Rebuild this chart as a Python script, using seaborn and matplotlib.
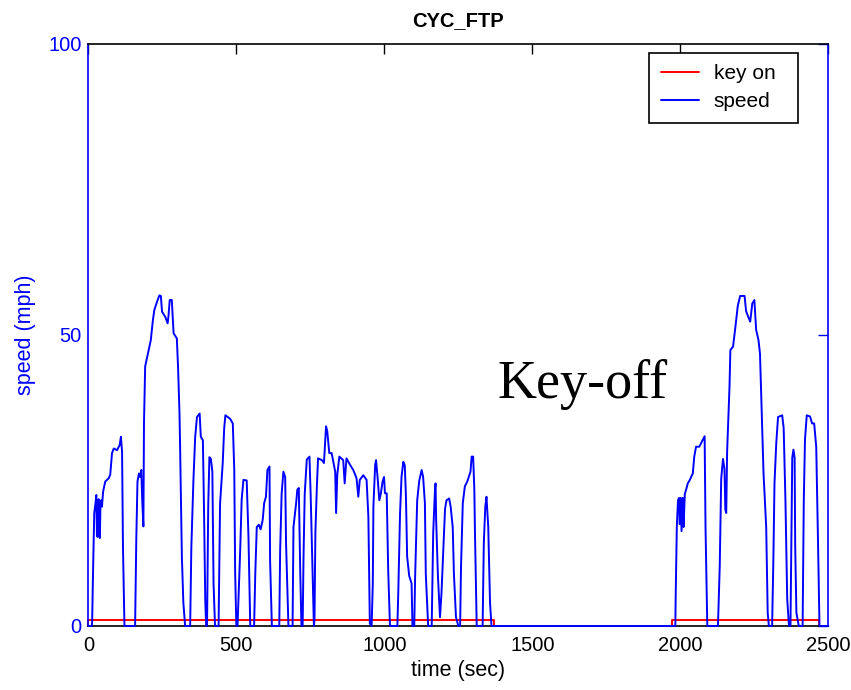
import pandas as pd
import numpy as np

import matplotlib
matplotlib.use("Agg")
import matplotlib.pyplot as plt
import seaborn as sns


# FTP-75 speed trace (time in sec, speed in mph)
cold_time = [
    0, 12, 13, 16, 20, 24, 27, 29, 31, 33, 35, 37, 39, 41, 43, 46, 50, 57, 69, 74,
    80, 86, 97, 106, 110, 114, 117, 122, 158, 162, 166, 171, 175, 179, 182, 186, 188, 192, 204, 211,
    218, 223, 232, 240, 245, 249, 260, 268, 271, 275, 282, 288, 299, 303, 308, 310, 316, 321, 327, 344,
    348, 355, 361, 367, 376, 380, 387, 391, 395, 398, 401, 405, 409, 414, 419, 423, 428, 440, 442, 445,
    454, 459, 463, 479, 488, 493, 496, 500, 504, 507, 513, 518, 524, 535, 541, 547, 560, 564, 569, 576,
    582, 589, 594, 600, 605, 612, 614, 620, 645, 648, 653, 659, 665, 668, 676, 690, 693, 702, 706, 711,
    716, 720, 724, 727, 731, 738, 747, 751, 758, 762, 764, 767, 772, 776, 789, 796, 803, 807, 814, 822,
    834, 837, 841, 848, 861, 866, 872, 884, 895, 906, 912, 917, 929, 940, 946, 949, 951, 957, 961, 963,
    969, 972, 977, 983, 988, 994, 999, 1002, 1008, 1013, 1019, 1044, 1047, 1053, 1058, 1064, 1069, 1073, 1077, 1084,
    1092, 1095, 1101, 1104, 1111, 1118, 1126, 1131, 1137, 1140, 1148, 1160, 1165, 1171, 1173, 1175, 1181, 1188, 1193, 1199,
    1205, 1210, 1219, 1224, 1231, 1235, 1242, 1250, 1256, 1259, 1265, 1272, 1280, 1287, 1291, 1295, 1300, 1304, 1306, 1312,
    1332, 1336, 1341, 1345, 1351, 1357, 1362,
]
cold_speed = [
    0, 0, 1, 9.6, 19.4, 21, 22.5, 15.5, 15.3, 21.5, 21.8, 15.5, 15.1, 21, 21.6, 20.5, 23.1, 24.8, 25.4, 26,
    29.7, 30.5, 30.2, 31.1, 32.5, 29.9, 13.6, 0, 0, 14.8, 24.8, 26.2, 25.6, 26.8, 21.7, 17.1, 34.8, 44.6, 47.4, 49.1,
    52.5, 54.3, 55.7, 56.8, 56.7, 54, 53.1, 52, 53.4, 56, 56, 50.3, 49.4, 44.6, 36.5, 30.8, 11.9, 4, 0, 0,
    13.6, 25, 32.5, 35.9, 36.5, 32.5, 31.9, 19.3, 4.4, 0, 0, 20.5, 29, 28.7, 26.5, 7.3, 0, 0, 8.4, 21,
    28, 34, 36.2, 35.6, 34.8, 26.8, 9.1, 0, 0, 4.5, 13, 21.7, 25.1, 25, 15.3, 0, 0, 9, 17, 17.4,
    16.6, 18.2, 21.1, 22.2, 26.8, 27.4, 11.3, 0, 0, 13, 22.7, 26.5, 25.6, 14.1, 0, 0, 17, 21.1, 23.4, 23.7,
    9, 0, 0, 12, 22.7, 28.6, 29.1, 22.7, 8, 0, 1, 16, 23.9, 28.8, 28.5, 28, 34.3, 33.5, 29.7, 29.7,
    26.5, 19.4, 26, 29.1, 28.5, 24.5, 28.8, 27.7, 26.8, 25.4, 22.2, 25.1, 25.9, 25.1, 18.8, 7.3, 0.4, 0, 7.3, 20.5,
    27.7, 28.5, 25.6, 21.6, 22.7, 24.8, 25.6, 22.8, 22.8, 9.6, 0, 0, 5.6, 19.3, 25.6, 28.2, 27.6, 22.2, 11.9, 8.6,
    7.3, 0, 0, 8.5, 21.6, 25, 26.8, 25.6, 21.1, 9, 0, 0, 15.9, 23.4, 24.5, 18.2, 8.6, 1.5, 5.6, 13,
    20.1, 21.6, 21.9, 20.5, 17, 9, 1.5, 0, 0, 10.2, 21.1, 24, 24.8, 25.9, 26.5, 29.1, 29.1, 23.4, 16.5, 0,
    0, 14.2, 20.5, 22.2, 17, 4, 0,
]

# hot start after the 10 minute soak
hot_time = [
    1969, 1983, 1984, 1988, 1992, 1995, 1998, 2001, 2004, 2008, 2011, 2015, 2020, 2025, 2031, 2042, 2047, 2053, 2064, 2076,
    2082, 2085, 2091, 2127, 2133, 2138, 2144, 2149, 2152, 2155, 2158, 2166, 2169, 2178, 2186, 2194, 2202, 2217, 2222, 2231,
    2236, 2243, 2250, 2256, 2264, 2269, 2273, 2281, 2290, 2295, 2299, 2310, 2314, 2318, 2324, 2330, 2344, 2349, 2355, 2361,
    2367, 2372, 2374, 2378, 2382, 2386, 2388, 2392, 2400, 2413, 2417, 2421, 2427, 2438, 2445, 2452, 2459, 2465, 2470, 2500,
]
hot_speed = [
    0, 0, 4.3, 17, 21.5, 22, 17.5, 22, 16.3, 22, 17, 22.7, 23.5, 24.5, 25, 26.2, 29.1, 30.8, 30.8, 32,
    32.6, 17, 0, 0, 10.2, 25.3, 28.7, 27, 20, 19.4, 30, 41.1, 47.4, 48, 51.4, 55, 56.7, 56.7, 54.1, 52.9,
    52.3, 55.4, 56, 50.9, 49.1, 46.8, 40, 26.2, 17, 2.3, 0, 0, 10.8, 24.5, 31.4, 35.9, 36.2, 34, 21.6, 4.6,
    0, 0, 10, 28.9, 30.3, 28.9, 13.6, 2.3, 0, 0, 21.6, 32, 36.2, 36, 34.8, 34.8, 30.8, 14.6, 0, 0,
]

key_time = [0, 0, 1371, 1371, 1971, 1971, 2469, 2469, 2500]
key_state = [0, 1, 1, 0, 0, 1, 1, 0, 0]


speed_df = pd.DataFrame({
    "time": cold_time + hot_time,
    "speed": cold_speed + hot_speed,
})
key_df = pd.DataFrame({"time": key_time, "key": key_state})


sns.set_style("white")
plt.rcParams["font.family"] = ["Liberation Sans", "DejaVu Sans"]
plt.rcParams["text.color"] = "black"
plt.rcParams["axes.labelcolor"] = "black"

fig = plt.figure(figsize=(8.51, 6.90), dpi=100)
ax = fig.add_axes([0.1038, 0.0928, 0.8696, 0.8435])

sns.lineplot(
    data=key_df, x="time", y="key",
    color="red", linewidth=1.4, label="key on",
    estimator=None, sort=False, ax=ax
)
sns.lineplot(
    data=speed_df, x="time", y="speed",
    color="blue", linewidth=1.4, label="speed",
    estimator=None, sort=False, ax=ax, zorder=3
)
for line in ax.get_lines():
    line.set_clip_on(False)

ax.set_xlim(0, 2500)
ax.set_ylim(0, 100)
ax.set_xticks([0, 500, 1000, 1500, 2000, 2500])
ax.set_yticks([0, 50, 100])

ax.tick_params(direction="in", length=7, width=1, top=True, right=True,
               labelsize=14.5)
ax.tick_params(axis="x", pad=7, colors="black")
ax.tick_params(axis="y", pad=5, colors="blue")

for side in ["top", "bottom"]:
    ax.spines[side].set_color("black")
for side in ["left", "right"]:
    ax.spines[side].set_color("blue")
for side in ax.spines:
    ax.spines[side].set_linewidth(1.2)
    ax.spines[side].set_visible(True)

ax.set_title("CYC_FTP", fontsize=14.5, fontweight="bold", pad=13, color="black")
ax.set_xlabel("time (sec)", fontsize=15.5, labelpad=4)
ax.set_ylabel("speed (mph)", fontsize=15.5, color="blue", labelpad=9)

ax.text(1381, 39.2, "Key-off", fontsize=39, family="Liberation Serif",
        color="black", ha="left", va="baseline")

leg = ax.legend(
    loc="upper left", bbox_to_anchor=(0.7577, 0.80, 0.2014, 0.1845),
    mode="expand", fontsize=15, frameon=True, fancybox=False, framealpha=1,
    edgecolor="black", borderaxespad=0, handlelength=1.83,
    handletextpad=0.72, labelspacing=0.42, borderpad=0.55
)
leg.get_frame().set_linewidth(1.2)

fig.savefig("out.png", dpi=100)
